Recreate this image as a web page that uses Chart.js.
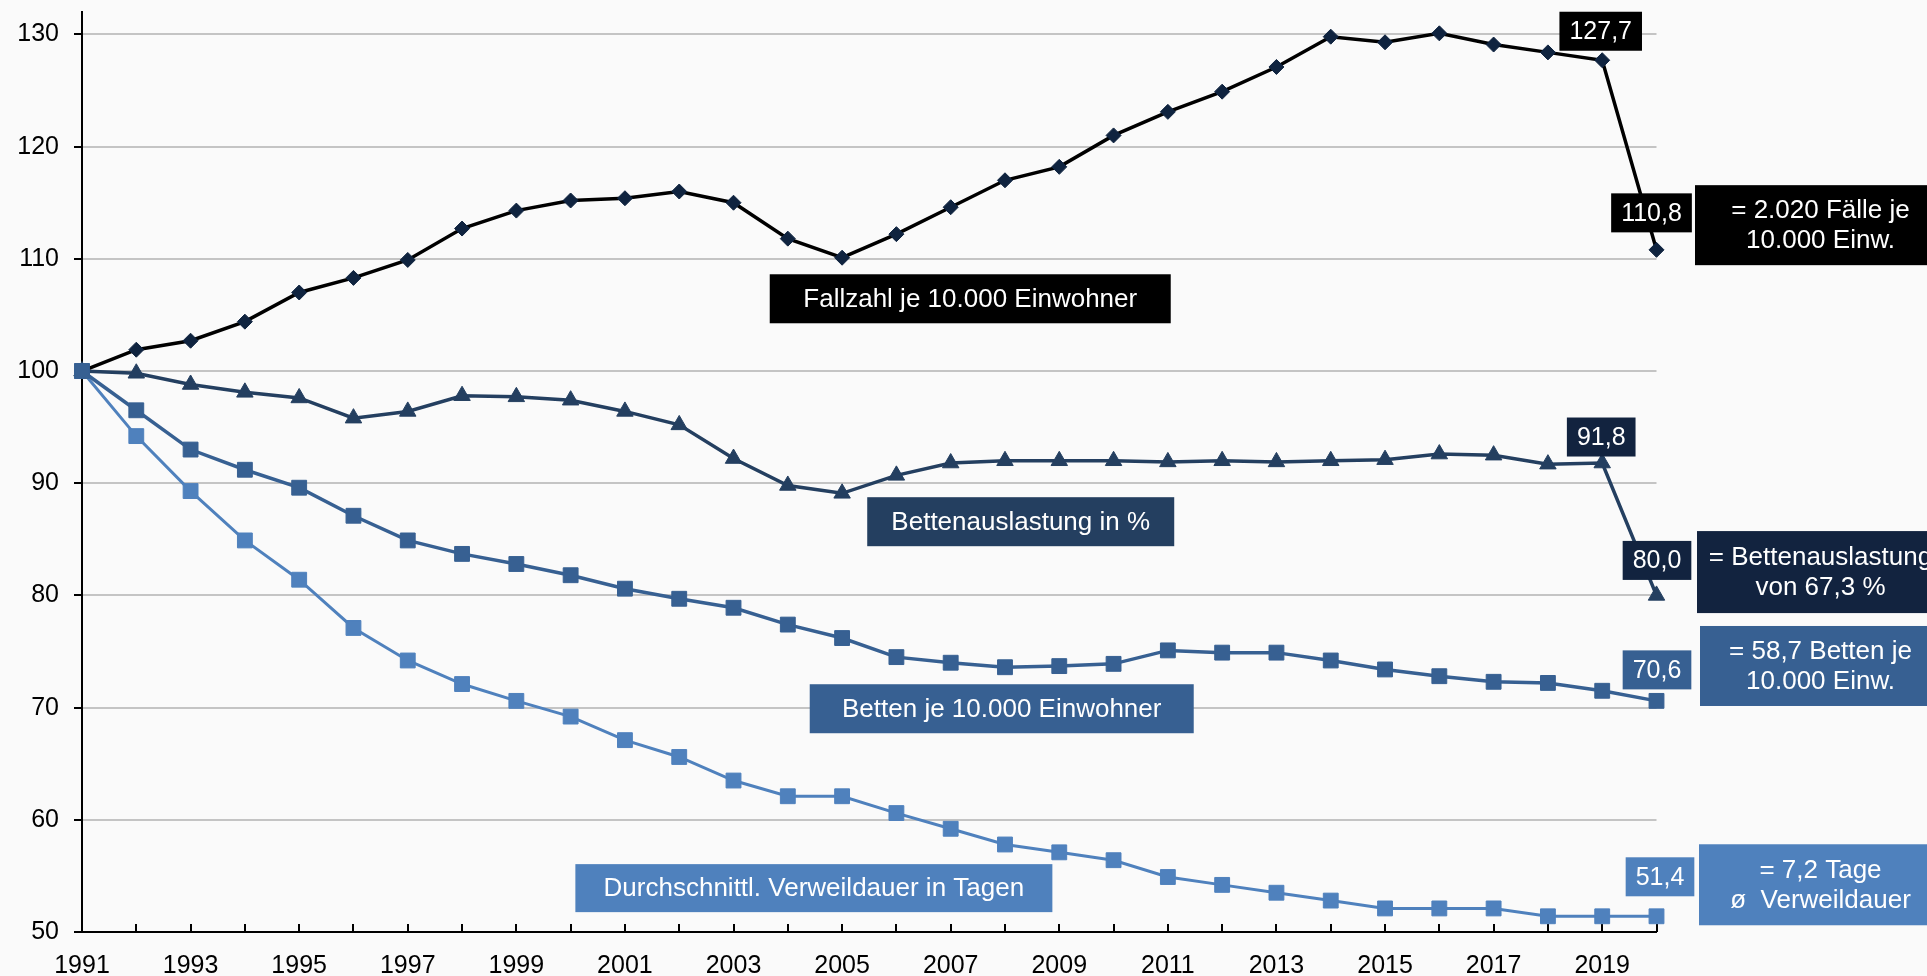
<!DOCTYPE html>
<html lang="de">
<head>
<meta charset="utf-8">
<title>Krankenhäuser 1991–2020</title>
<script src="https://cdn.jsdelivr.net/npm/chart.js@4.4.1/dist/chart.umd.min.js"></script>
<style>
  html, body { margin: 0; padding: 0; background: #fafafa; }
  #wrap { width: 1927px; height: 976px; }
</style>
</head>
<body>
<div id="wrap"><canvas id="chart" width="1927" height="976"></canvas></div>
<script>
// Index 1991 = 100
const years = [1991, 1992, 1993, 1994, 1995, 1996, 1997, 1998, 1999, 2000,
               2001, 2002, 2003, 2004, 2005, 2006, 2007, 2008, 2009, 2010,
               2011, 2012, 2013, 2014, 2015, 2016, 2017, 2018, 2019, 2020];

const fallzahl = [100, 101.9, 102.7, 104.4, 107.0, 108.3, 109.9, 112.7, 114.3, 115.2,
                  115.4, 116.0, 115.0, 111.8, 110.1, 112.2, 114.6, 117.0, 118.2, 121.0,
                  123.1, 124.9, 127.1, 129.8, 129.3, 130.1, 129.1, 128.4, 127.7, 110.8];

const auslastung = [100, 99.8, 98.8, 98.1, 97.6, 95.8, 96.4, 97.8, 97.7, 97.4,
                    96.4, 95.2, 92.2, 89.8, 89.1, 90.7, 91.8, 92.0, 92.0, 92.0,
                    91.9, 92.0, 91.9, 92.0, 92.1, 92.6, 92.5, 91.7, 91.8, 80.0];

const betten = [100, 96.5, 93.0, 91.2, 89.6, 87.1, 84.9, 83.7, 82.8, 81.8,
                80.6, 79.7, 78.9, 77.4, 76.2, 74.5, 74.0, 73.6, 73.7, 73.9,
                75.1, 74.9, 74.9, 74.2, 73.4, 72.8, 72.3, 72.2, 71.5, 70.6];

const verweildauer = [100, 94.2, 89.3, 84.9, 81.4, 77.1, 74.2, 72.1, 70.6, 69.2,
                      67.1, 65.6, 63.5, 62.1, 62.1, 60.6, 59.2, 57.8, 57.1, 56.4,
                      54.9, 54.2, 53.5, 52.8, 52.1, 52.1, 52.1, 51.4, 51.4, 51.4];

const yTicks = [50, 60, 70, 80, 90, 100, 110, 120, 130];

const seriesNames = ["Fallzahl je 10.000 Einwohner", "Bettenauslastung in %",
                     "Betten je 10.000 Einwohner", "Durchschnittl. Verweildauer in Tagen"];

const absoluteNotes = [["= 2.020 Fälle je", "10.000 Einw."],
                       ["= Bettenauslastung", "von 67,3 %"],
                       ["= 58,7 Betten je", "10.000 Einw."],
                       ["= 7,2 Tage", "ø  Verweildauer"]];

const FONT = "'Liberation Sans', Arial, sans-serif";
const BLACK = "#000000";
const NAVY = "#0f233f";
const DARK = "#243f60";
const MID = "#376092";
const LIGHT = "#4f81bd";

// Name boxes inside the plot, centred on (year, value)
const nameBoxes = [
  { text: seriesNames[0], year: 2007.36, value: 106.44, w: 401, h: 49, fill: BLACK },
  { text: seriesNames[1], year: 2008.29, value: 86.57, w: 307, h: 49, fill: DARK },
  { text: seriesNames[2], year: 2007.94, value: 69.90, w: 384, h: 49, fill: MID },
  { text: seriesNames[3], year: 2004.48, value: 53.91, w: 477, h: 48, fill: LIGHT }
];

// Value boxes next to the last points (offset in px from the point)
const valueBoxes = [
  { data: fallzahl, idx: 28, dx: -1.5, dy: -29, fill: BLACK },
  { data: fallzahl, idx: 29, dx: -5, dy: -37, fill: BLACK },
  { data: auslastung, idx: 28, dx: -1, dy: -26, fill: "#12233f" },
  { data: auslastung, idx: 29, dx: 0.5, dy: -35, fill: "#12233f" },
  { data: betten, idx: 29, dx: 0.5, dy: -31, fill: MID },
  { data: verweildauer, idx: 29, dx: 3.5, dy: -39.5, fill: LIGHT }
];

// Notes right of the plot, vertically centred on a value
const noteBoxes = [
  { lines: absoluteNotes[0], value: 113.0, h: 80, left: 38.5, fill: BLACK },
  { lines: absoluteNotes[1], value: 82.08, h: 82, left: 40.5, fill: "#12233f" },
  { lines: absoluteNotes[2], value: 73.71, h: 80, left: 43.5, fill: MID },
  { lines: absoluteNotes[3], value: 54.21, h: 81, left: 42.5, fill: LIGHT }
];

function fmt(v) {
  return v.toFixed(1).replace(".", ",");
}

function drawBox(ctx, x0, y0, w, h, fill, lines, cx, size, gap) {
  ctx.fillStyle = fill;
  ctx.fillRect(x0, y0, w, h);
  ctx.fillStyle = "#ffffff";
  ctx.font = size + "px " + FONT;
  ctx.textAlign = "center";
  ctx.textBaseline = "middle";
  const cy = y0 + h / 2;
  lines.forEach((t, i) => {
    ctx.fillText(t, cx, cy + (i - (lines.length - 1) / 2) * gap + 1);
  });
}

const annotations = {
  id: "annotations",
  beforeDatasetsDraw(chart) {
    // small tick marks pointing up into the plot
    const { ctx, chartArea } = chart;
    const xs = chart.scales.x;
    ctx.save();
    ctx.strokeStyle = BLACK;
    ctx.lineWidth = 2;
    for (let i = 1; i < years.length; i++) {
      const px = Math.round(xs.getPixelForValue(i));
      ctx.beginPath();
      ctx.moveTo(px, chartArea.bottom);
      ctx.lineTo(px, chartArea.bottom - 8);
      ctx.stroke();
    }
    ctx.restore();
  },
  afterDatasetsDraw(chart) {
    const { ctx, chartArea } = chart;
    const xs = chart.scales.x, ys = chart.scales.y;
    ctx.save();

    nameBoxes.forEach(b => {
      const cx = xs.getPixelForValue(b.year - years[0]);
      const cy = ys.getPixelForValue(b.value);
      drawBox(ctx, cx - b.w / 2, cy - b.h / 2, b.w, b.h, b.fill, [b.text], cx, 26, 0);
    });

    valueBoxes.forEach(b => {
      const text = fmt(b.data[b.idx]);
      ctx.font = "25px " + FONT;
      const w = ctx.measureText(text).width + 20;
      const h = 39;
      const cx = xs.getPixelForValue(b.idx) + b.dx;
      const cy = ys.getPixelForValue(b.data[b.idx]) + b.dy;
      drawBox(ctx, cx - w / 2, cy - h / 2, w, h, b.fill, [text], cx, 25, 0);
    });

    noteBoxes.forEach(b => {
      const left = chartArea.right + b.left;
      const cy = ys.getPixelForValue(b.value);
      drawBox(ctx, left, cy - b.h / 2, chart.width - left, b.h, b.fill, b.lines,
              chartArea.right + 164, 26, 30);
    });

    ctx.restore();
  }
};

const ctx = document.getElementById("chart").getContext("2d");

new Chart(ctx, {
  type: "line",
  data: {
    labels: years.map(String),
    datasets: [
      {
        label: seriesNames[2], data: betten, order: 0,
        borderColor: MID, borderWidth: 3.5,
        pointStyle: "rect", pointRadius: 10.5, pointBorderWidth: 1,
        pointBackgroundColor: MID, pointBorderColor: MID
      },
      {
        label: seriesNames[0], data: fallzahl, order: 1,
        borderColor: BLACK, borderWidth: 3.5,
        pointStyle: "rectRot", pointRadius: 7.5, pointBorderWidth: 1,
        pointBackgroundColor: NAVY, pointBorderColor: NAVY
      },
      {
        label: seriesNames[1], data: auslastung, order: 2,
        borderColor: DARK, borderWidth: 3.5,
        pointStyle: "triangle", pointRadius: 9.5, pointBorderWidth: 1,
        pointBackgroundColor: DARK, pointBorderColor: DARK
      },
      {
        label: seriesNames[3], data: verweildauer, order: 3,
        borderColor: LIGHT, borderWidth: 3,
        pointStyle: "rect", pointRadius: 10.5, pointBorderWidth: 1,
        pointBackgroundColor: LIGHT, pointBorderColor: LIGHT
      }
    ]
  },
  options: {
    responsive: false,
    devicePixelRatio: 1,
    animation: false,
    layout: { padding: { top: 12, right: 270.5, left: 0, bottom: 0 } },
    elements: { line: { tension: 0 } },
    datasets: { line: { clip: false } },
    plugins: {
      legend: { display: false },
      tooltip: { enabled: false }
    },
    scales: {
      x: {
        type: "category",
        offset: false,
        grid: { display: true, drawOnChartArea: false, drawTicks: false },
        border: { display: true, color: BLACK, width: 2 },
        ticks: {
          autoSkip: false,
          maxRotation: 0,
          padding: 19,
          color: BLACK,
          font: { family: FONT, size: 25 },
          callback(value, index) {
            return index % 2 === 0 ? this.getLabelForValue(value) : "";
          }
        },
        afterFit(scale) {
          scale.height = 44;
          scale.paddingLeft = 0;
          scale.paddingRight = 0;
        }
      },
      y: {
        min: 50,
        max: 132,
        grid: {
          color: c => (c.tick && c.tick.value === 50 ? "rgba(0,0,0,0)" : "#c4c4c4"),
          lineWidth: 2,
          drawTicks: true,
          tickLength: 8,
          tickColor: BLACK,
          tickWidth: 2
        },
        border: { display: true, color: BLACK, width: 2 },
        ticks: {
          stepSize: 10,
          padding: 15,
          color: BLACK,
          font: { family: FONT, size: 25 }
        },
        afterBuildTicks(scale) {
          scale.ticks = yTicks.map(v => ({ value: v }));
        },
        afterFit(scale) {
          scale.width = 82;
          scale.paddingTop = 0;
          scale.paddingBottom = 0;
        }
      }
    }
  },
  plugins: [annotations]
});
</script>
</body>
</html>
